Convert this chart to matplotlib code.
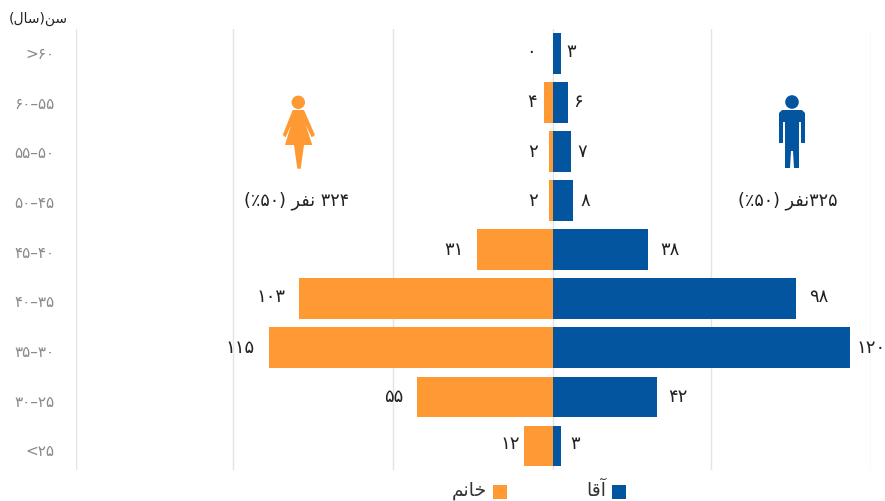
import matplotlib
matplotlib.use("Agg")
import matplotlib.pyplot as plt
from matplotlib.patches import Polygon, Circle, Rectangle
import numpy as np

plt.rcParams['font.family'] = ['DejaVu Sans']

# Data (Persian text in visual order with presentation forms, since matplotlib does not shape)
age_labels = ['>۶۰', '۶۰–۵۵', '۵۵–۵۰', '۵۰–۴۵', '۴۵–۴۰', '۴۰–۳۵', '۳۵–۳۰', '۳۰–۲۵', '<۲۵']
female = [0, 4, 2, 2, 31, 103, 115, 55, 12]
male = [3, 6, 7, 8, 38, 98, 120, 42, 3]
female_text = ['۰', '۴', '۲', '۲', '۳۱', '۱۰۳', '۱۱۵', '۵۵', '۱۲']
male_text = ['۳', '۶', '۷', '۸', '۳۸', '۹۸', '۱۲۰', '۴۲', '۳']
grid_values = [-193, -129.4, -64.9, 0, 63.6, 128.2]
axis_title = '(\ufedd\ufe8e\ufeb3)\ufee6\ufeb3'           # سن(سال)
female_name = '\ufee2\ufee7\ufe8e\ufea7'                  # خانم
male_name = '\ufe8e\ufed7\ufe81'                          # آقا
female_total = '(٪۵۰) \ufeae\ufed4\ufee7 ۳۲۴'             # ۳۲۴ نفر (۵۰٪)
male_total = '(٪۵۰) \ufeae\ufed4\ufee7۳۲۵'                # ۳۲۵نفر (۵۰٪)

# Label offsets from bar ends, in pixels
female_dx = [-23, -12, -15, -15, -23, -28, -29, -24, -14]
male_dx = [10, 10, 11, 12, 22, 23, 21, 21, 14]
label_dy = [2, 1, 0, 0, 0, 2, 0, 0, 2]
age_dy = [-1, -2, -2, -3, -4, -4, -5, -6, -6]

BLUE = '#03559f'
ORANGE = '#ff9933'
W, H = 885, 501

fig = plt.figure(figsize=(W / 100, H / 100), dpi=100)
ax = fig.add_axes([75.7 / W, 1 - 470 / H, (870.7 - 75.7) / W, (470 - 29) / H])
ax.set_xlim(-193.1, 128.1)
ax.set_ylim(8.49, -0.5)
for s in ax.spines.values():
    s.set_visible(False)
ax.set_facecolor('none')
ax.set_xticks(grid_values)
ax.set_xticklabels([])
ax.set_yticks([])
ax.tick_params(length=0)
ax.grid(axis='x', color='#e4e4e4', lw=1.0)
ax.set_axisbelow(True)

y = np.arange(len(age_labels))
ax.barh(y, male, height=0.83, color=BLUE, zorder=2)
ax.barh(y, [-v for v in female], height=0.83, color=ORANGE, zorder=2)

for i in y:
    ax.annotate(female_text[i], (-female[i], i), xytext=(female_dx[i], label_dy[i]),
                textcoords='offset pixels', ha='center', va='center', fontsize=13,
                color='#222222', annotation_clip=False, zorder=3)
    ax.annotate(male_text[i], (male[i], i), xytext=(male_dx[i], label_dy[i]),
                textcoords='offset pixels', ha='center', va='center', fontsize=13,
                color='#222222', annotation_clip=False, zorder=3)
    ax.annotate(age_labels[i], (-193.1, i), xytext=(-21, age_dy[i]), textcoords='offset pixels',
                ha='right', va='center', fontsize=11, color='#8a8a8a',
                annotation_clip=False)

# Overlay in pixel coordinates for the decorations
ov = fig.add_axes([0, 0, 1, 1])
ov.set_xlim(0, W)
ov.set_ylim(H, 0)
ov.axis('off')
ov.patch.set_alpha(0)

ov.text(38, 19, axis_title, ha='center', va='center', fontsize=10, color='#222222')
ov.text(297, 201, female_total, ha='center', va='center', fontsize=12.7, color='#222222')
ov.text(788, 201, male_total, ha='center', va='center', fontsize=12.7, color='#222222')

# Female icon
ov.add_patch(Circle((298.3, 102.3), 6.7, color=ORANGE, lw=0))
ov.add_patch(Polygon([(292.7, 110), (304, 110), (315, 135), (311.7, 137.3), (305.7, 125),
                      (312.3, 145), (304, 145), (300.7, 168.7), (297.3, 168.7), (294, 145),
                      (285, 145), (291, 125), (285.7, 137.3), (282.7, 135)],
                     closed=True, color=ORANGE, lw=0))
# Male icon
ov.add_patch(Circle((792, 102), 6.8, color=BLUE, lw=0))
ov.add_patch(Polygon([(782, 110), (802, 110), (805, 113), (805, 143), (801, 143),
                      (801, 122), (799, 122), (799, 168), (794, 168), (793, 151),
                      (791, 151), (790, 168), (785, 168), (785, 122), (783, 122),
                      (783, 143), (779, 143), (779, 113)], closed=True, color=BLUE, lw=0))

# Legend
ov.add_patch(Rectangle((612, 485), 14, 14, color=BLUE, lw=0))
ov.add_patch(Rectangle((493, 485), 14, 14, color=ORANGE, lw=0))
ov.text(596.5, 490, male_name, ha='center', va='center', fontsize=13.5, color='#333333')
ov.text(469.5, 490, female_name, ha='center', va='center', fontsize=13.5, color='#333333')

fig.savefig('out.png', dpi=100)
